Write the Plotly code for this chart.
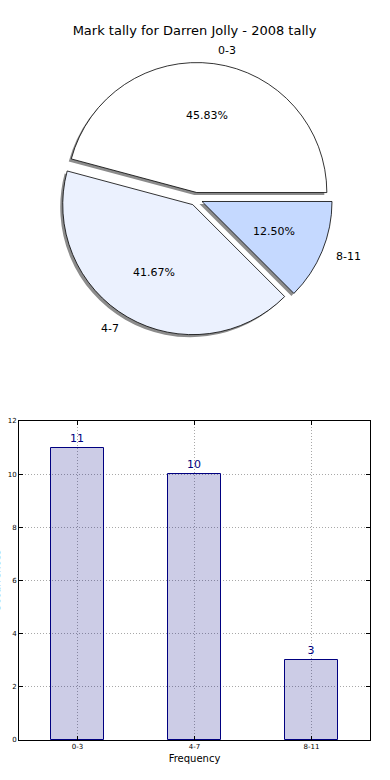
import numpy as np
import plotly.graph_objects as go

# ---- data ----
categories = ["0-3", "4-7", "8-11"]
counts = [11, 10, 3]
title_text = "Mark tally for Darren Jolly - 2008 tally"
x_title = "Frequency"
y_title = "Occurrences"
y_ticks = [0, 2, 4, 6, 8, 10, 12]

# ---- styling ----
W, H = 390, 780
ML, MR, MT, MB = 19, 20, 0, 40
PW, PH = W - ML - MR, H - MT - MB
FONT = "DejaVu Sans"
slice_colors = ["#ffffff", "#ebf1fe", "#c5d9ff"]
pull = 0.05
pie_cx_px, pie_cy_px, pie_r_px = 196, 199, 130


def px_to_paper_x(px):
    return (px - ML) / PW


def px_to_paper_y(py):
    return (H - MB - py) / PH


half = pie_r_px * (1 + pull)
pie_dom_x = [px_to_paper_x(pie_cx_px - half * 1.2), px_to_paper_x(pie_cx_px + half * 1.2)]
pie_dom_y = [px_to_paper_y(pie_cy_px + half), px_to_paper_y(pie_cy_px - half)]
sh = 2.5
shadow_dom_x = [pie_dom_x[0] - sh / PW, pie_dom_x[1] - sh / PW]
shadow_dom_y = [pie_dom_y[0] - sh / PH, pie_dom_y[1] - sh / PH]

# matplotlib draws slices counter-clockwise from 3 o'clock; plotly equivalent:
# clockwise from 3 o'clock with the order reversed
pie_labels = categories[::-1]
pie_values = counts[::-1]
pie_colors = slice_colors[::-1]

fig = go.Figure()

# shadow pie
fig.add_trace(go.Pie(
    labels=pie_labels, values=pie_values, sort=False, direction="clockwise",
    rotation=90, pull=[pull] * len(counts),
    marker=dict(colors=["#8c8c8c"] * len(counts), line=dict(width=0)),
    textinfo="none", hoverinfo="skip", showlegend=False,
    domain=dict(x=shadow_dom_x, y=shadow_dom_y),
))

# main pie
fig.add_trace(go.Pie(
    labels=pie_labels, values=pie_values, sort=False, direction="clockwise",
    rotation=90, pull=[pull] * len(counts),
    marker=dict(colors=pie_colors, line=dict(color="black", width=0.8)),
    textinfo="none", showlegend=False,
    domain=dict(x=pie_dom_x, y=pie_dom_y),
))

# category labels (1.1 r) and percentages (0.6 r) from the exploded centre
total = float(sum(counts))
start = 0.0
annotations = []
for cat, v in zip(categories, counts):
    frac = v / total
    mid = np.deg2rad((start + frac / 2) * 360)
    start += frac
    ecx = pie_cx_px + pull * pie_r_px * np.cos(mid)
    ecy = pie_cy_px - pull * pie_r_px * np.sin(mid)
    lx = ecx + 1.1 * pie_r_px * np.cos(mid)
    ly = ecy - 1.1 * pie_r_px * np.sin(mid)
    annotations.append(dict(
        x=px_to_paper_x(lx), y=px_to_paper_y(ly), xref="paper", yref="paper",
        text=cat, showarrow=False, xanchor="left" if np.cos(mid) > 0 else "right",
        yanchor="middle", font=dict(family=FONT, size=11, color="black"),
    ))
    tx = ecx + 0.6 * pie_r_px * np.cos(mid)
    ty = ecy - 0.6 * pie_r_px * np.sin(mid)
    annotations.append(dict(
        x=px_to_paper_x(tx), y=px_to_paper_y(ty), xref="paper", yref="paper",
        text=f"{100 * frac:.2f}%", showarrow=False, xanchor="center",
        yanchor="middle", font=dict(family=FONT, size=11, color="black"),
    ))

# bar chart
fig.add_trace(go.Bar(
    x=categories, y=counts, width=0.45,
    marker=dict(color="rgba(0,0,128,0.2)", line=dict(color="navy", width=1)),
    text=[str(c) for c in counts], textposition="outside", cliponaxis=False,
    textfont=dict(family=FONT, size=11, color="navy"),
    xaxis="x", yaxis="y", showlegend=False,
))

# y-axis title (clipped at the left edge as in the reference)
annotations.append(dict(
    x=px_to_paper_x(-4), y=px_to_paper_y(581), xref="paper", yref="paper",
    text=y_title, textangle=-90, showarrow=False, xanchor="center", yanchor="middle",
    font=dict(family=FONT, size=10, color="#222222"),
))

bar_top = px_to_paper_y(421)
grid_dash = "1px,2px"
fig.update_layout(
    width=W, height=H, margin=dict(l=ML, r=MR, t=MT, b=MB),
    paper_bgcolor="white", plot_bgcolor="white",
    font=dict(family=FONT, color="black"),
    title=dict(text=title_text, x=0.5, xref="paper", y=1 - 30 / H, yref="container",
               xanchor="center", yanchor="middle", font=dict(family=FONT, size=13, color="black")),
    xaxis=dict(domain=[0, 1], range=[-0.5, 2.5], showline=True, linecolor="black", linewidth=1,
               mirror="allticks", ticks="inside", ticklen=4, tickcolor="black",
               showgrid=True, gridcolor="#a8a8a8", griddash=grid_dash, gridwidth=1,
               tickfont=dict(family=FONT, size=7), zeroline=False, automargin=False,
               title=dict(text=x_title, font=dict(family=FONT, size=10), standoff=4),
               anchor="y", fixedrange=True),
    yaxis=dict(domain=[0, bar_top], range=[0, 12], tickvals=y_ticks, showline=True,
               linecolor="black", linewidth=1, mirror="allticks", ticks="inside", ticklen=4,
               tickcolor="black", showgrid=True, gridcolor="#a8a8a8", griddash=grid_dash,
               gridwidth=1, tickfont=dict(family=FONT, size=7), zeroline=False,
               automargin=False, anchor="x", fixedrange=True),
    annotations=annotations,
    bargap=0,
)

fig.write_html("out.html", config={"displayModeBar": False},
               post_script="document.body.style.margin='0';")
